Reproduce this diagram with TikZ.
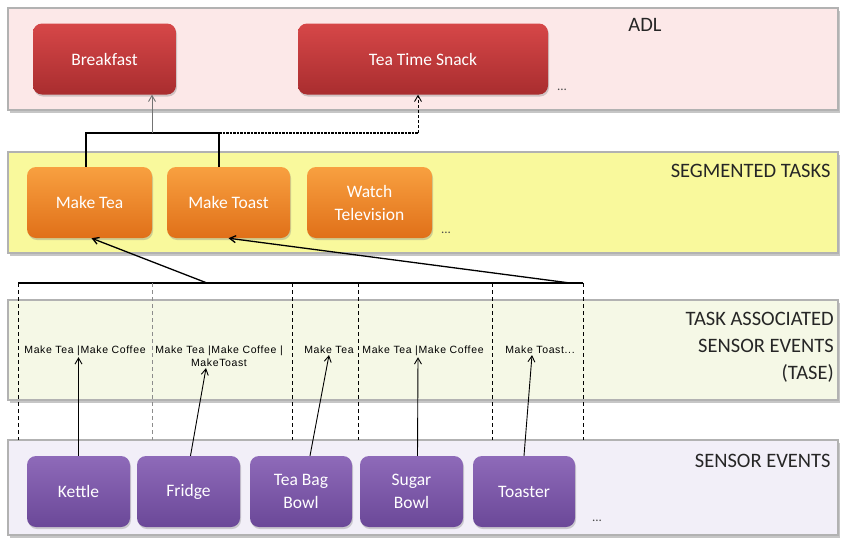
\documentclass[tikz,border=0pt]{standalone}
\usepackage{fontspec}
\setmainfont{Carlito}
\newfontfamily\tasefont[LetterSpace=6]{Liberation Sans}
\usetikzlibrary{shadows,arrows.meta}
\definecolor{adlred}{HTML}{A92D2F}
\definecolor{adlredtop}{HTML}{D64748}
\definecolor{taskorange}{HTML}{E07019}
\definecolor{taskorangetop}{HTML}{F8A040}
\definecolor{sensorpurple}{HTML}{6B4898}
\definecolor{sensorpurpletop}{HTML}{8E6AB9}
\definecolor{adlbg}{HTML}{FCE8E8}
\definecolor{taskbg}{HTML}{F9F99C}
\definecolor{tasebg}{HTML}{F5F8E6}
\definecolor{sensorbg}{HTML}{F2EFF8}

\tikzset{
  layer/.style={draw=black!30, line width=1.5pt, minimum width=830pt,
    drop shadow={shadow xshift=1.5pt, shadow yshift=-2.5pt, opacity=.45}},
  act/.style={rounded corners=9pt, minimum height=71pt, text=white, align=center,
    font=\fontsize{17.5}{23}\selectfont,
    drop shadow={shadow xshift=1pt, shadow yshift=-2pt, opacity=.35}},
  adlbox/.style={act, top color=adlredtop, bottom color=adlred},
  taskbox/.style={act, top color=taskorangetop, bottom color=taskorange},
  sensorbox/.style={act, top color=sensorpurpletop, bottom color=sensorpurple},
  layername/.style={text=black!85, font=\fontsize{20.5}{27}\selectfont, align=right},
  tase/.style={font=\tasefont\fontsize{10.5}{13}\selectfont, inner sep=1pt, align=center},
  dots/.style={text=black!70, font=\fontsize{13}{13}\selectfont},
  arr/.style={line width=0.9pt, -{Straight Barb[length=6pt,width=7pt]}},
  link/.style={line width=1.4pt}
}

\begin{document}
\begin{tikzpicture}[x=1pt,y=-1pt]
  \useasboundingbox (0,0) rectangle (842,541);

  % layers
  \node[layer, fill=adlbg, minimum height=102pt] (adl) at (423,59) {};
  \node[layer, fill=taskbg, minimum height=101pt] (seg) at (423,202.5) {};
  \node[layer, fill=tasebg, minimum height=100pt] (tas) at (423,350) {};
  \node[layer, fill=sensorbg, minimum height=95pt] (sen) at (423,487.5) {};

  \node[layername] at (645,25) {ADL};
  \node[layername, anchor=east] at (834,171) {SEGMENTED TASKS};
  \node[layername, anchor=north east, inner sep=0pt] at (834,312) {TASK ASSOCIATED\\SENSOR EVENTS\\(TASE)};
  \node[layername, anchor=east] at (834,461) {SENSOR EVENTS};

  % activities
  \node[adlbox, minimum width=143pt] (breakfast) at (104.5,59) {Breakfast};
  \node[adlbox, minimum width=250pt] (snack) at (423,59) {Tea Time Snack};
  \node[dots] at (562,90) {...};

  % tasks
  \node[taskbox, minimum width=125pt] (maketea) at (89.5,202.5) {Make Tea};
  \node[taskbox, minimum width=123pt] (maketoast) at (228.5,202.5) {Make Toast};
  \node[taskbox, minimum width=125pt] (watchtv) at (369.5,202.5) {Watch\\Television};
  \node[dots] at (446,233) {...};

  % sensors
  \node[sensorbox, minimum width=103pt] (kettle) at (78.5,491.5) {Kettle};
  \node[sensorbox, minimum width=103pt] (fridge) at (188.5,491.5) {Fridge};
  \node[sensorbox, minimum width=102pt] (teabag) at (301,491.5) {Tea Bag\\Bowl};
  \node[sensorbox, minimum width=103pt] (sugar) at (411.5,491.5) {Sugar\\Bowl};
  \node[sensorbox, minimum width=102pt] (toaster) at (524,491.5) {Toaster};
  \node[dots] at (597,521) {...};

  % task associated sensor events
  \node[tase, anchor=north] (tase1) at (85,345) {Make Tea |Make Coffee};
  \node[tase, anchor=north] (tase2) at (219,345) {Make Tea |Make Coffee |\\MakeToast};
  \node[tase, anchor=north] (tase3) at (329,345) {Make Tea};
  \node[tase, anchor=north] (tase4) at (423,345) {Make Tea |Make Coffee};
  \node[tase, anchor=north] (tase5) at (540,345) {Make Toast...};

  % grouping of events
  \coordinate (grpL) at (18,283);
  \coordinate (grpR) at (583,283);
  \draw[link] (grpL) -- (grpR);
  \foreach \x/\c in {18/black, 152/black!45, 292/black, 358/black, 492/black, 583/black}
    \draw[\c, line width=1pt, dash pattern=on 4pt off 3pt] (\x,283) -- (\x,440);

  \draw[arr, line width=1.3pt] (207,283) -- ([xshift=2pt]maketea.south);
  \draw[arr, line width=1.3pt] (570,283) -- (maketoast.south);

  % sensors to events
  \draw[arr] (kettle.north) -- (kettle.north |- tase1.south);
  \draw[arr] ([xshift=2pt]fridge.north) -- ([xshift=-13pt]tase2.south);
  \draw[arr] ([xshift=9pt]teabag.north) -- (tase3.south);
  \draw[arr] ([xshift=6pt]sugar.north) -- ([xshift=-5pt]tase4.south);
  \draw[arr] (toaster.north) -- ([xshift=-8pt]tase5.south);

  % tasks to activities
  \coordinate (teatop) at (86,133);
  \coordinate (toasttop) at (219,133);
  \coordinate (bkup) at (152,133);
  \coordinate (snackup) at (418,133);
  \draw[link] (teatop |- maketea.north) -- (teatop) -- (toasttop) -- (toasttop |- maketoast.north);
  \draw[arr, black!55] (bkup) -- (bkup |- breakfast.south);
  \draw[link, dash pattern=on 2.5pt off 1pt] (toasttop) -- (snackup);
  \draw[arr, dash pattern=on 3pt off 2pt] (snackup) -- (snackup |- snack.south);
\end{tikzpicture}
\end{document}
